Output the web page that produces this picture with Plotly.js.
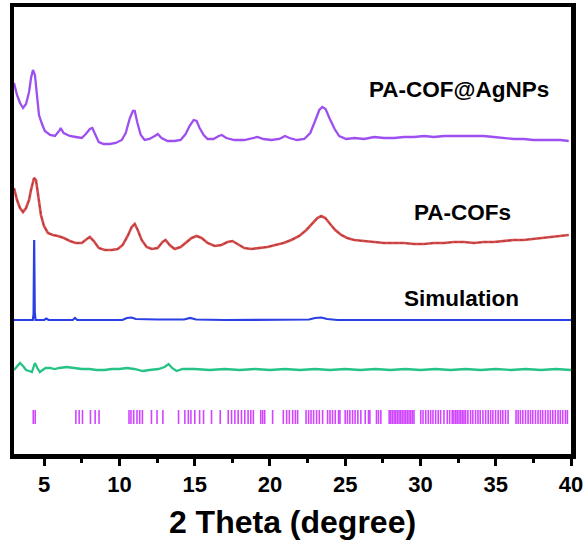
<!DOCTYPE html>
<html>
<head>
<meta charset="utf-8">
<script src="https://cdn.plot.ly/plotly-3.0.1.min.js"></script>
<style>html,body{margin:0;padding:0;background:#fff;}#chart{width:588px;height:554px;}</style>
</head>
<body>
<div id="chart"></div>
<script>
// 2θ (degree) and stacked intensities (a.u., offset for display)
const agX = [3.0,3.2,3.4,3.6,3.8,4.0,4.13,4.26,4.39,4.52,4.66,4.86,5.05,5.4,5.72,6.05,6.1,6.3,6.7,7.1,7.5,7.77,8.04,8.2,8.37,8.63,8.96,9.36,9.76,10.16,10.42,10.7,10.9,11.02,11.2,11.42,11.68,12.0,12.35,12.55,12.8,13.2,13.67,14.07,14.4,14.66,14.93,15.13,15.33,15.6,15.86,16.25,16.6,16.8,17.1,17.65,18.3,18.77,19.17,19.57,20.1,20.63,21.0,21.3,21.8,22.28,22.68,23.0,23.28,23.48,23.7,23.95,24.3,24.6,25.07,25.6,26.26,26.92,27.58,28.25,28.9,29.57,30.24,30.9,31.56,32.22,32.9,33.55,34.2,34.87,35.54,36.2,36.86,37.5,38.2,38.85,39.3,39.85];
const agY = [371,359,351,346,350,362,376,384,379,359,339,330,323,319,318,324,326,321,318,317,316,320,325,326,321,312,310,310,311,314,321,336,343,343,331,319,314,315,318,320,316,313,313,314,320,328,334,333,326,319,315,315,318,319,316,314,314,316,317,315,314,315,318,316,314,315,321,333,344,347,345,336,325,318,315,316,315,317,316,316,317,317,318,317,318,318,318,318,318,317,316,315,315,314,314,314,314,313];

const cofX = [3.0,3.2,3.4,3.6,3.8,4.0,4.13,4.33,4.46,4.59,4.79,4.99,5.25,5.58,5.92,6.31,6.71,7.1,7.5,7.84,8.04,8.3,8.63,9.03,9.49,9.89,10.22,10.55,10.82,11.02,11.22,11.48,11.81,12.15,12.54,12.87,13.07,13.34,13.67,14.07,14.46,14.8,15.13,15.46,15.86,16.33,16.78,17.18,17.51,17.84,18.3,18.77,19.3,19.83,20.36,20.9,21.42,21.95,22.42,22.81,23.15,23.41,23.68,24.0,24.34,24.74,25.13,25.6,26.26,26.92,27.58,28.25,28.9,29.57,30.24,30.9,31.56,32.22,32.9,33.55,34.2,34.87,35.54,36.2,36.86,37.5,38.2,38.85,39.3,39.85];
const cofY = [266,254,246,242,246,254,264,276,274,259,239,228,221,219,218,216,213,211,211,215,217,213,206,204,204,205,209,218,227,230,224,214,207,205,206,212,214,209,205,207,212,216,218,216,211,208,209,212,213,210,206,205,206,207,209,211,214,218,224,231,236,238,236,230,224,219,216,214,213,212,211,211,211,210,210,211,211,212,212,211,212,212,213,214,214,215,216,217,218,219];

const simX = [3.0,4.25,4.3,4.34,4.38,4.43,5.0,5.15,5.3,6.9,7.05,7.2,10.2,10.5,10.8,11.1,12.5,14.3,14.7,15.1,17.0,22.6,23.0,23.4,23.8,24.5,40.0];
const simY = [134,134,140,214,142,134,134,135.5,134,134,136,134,134,136,136.5,135,134.5,134.5,136,134.5,134,134.5,136,136.5,135,134,134];

const bareX = [3.0,3.2,3.4,3.6,3.8,4.0,4.19,4.3,4.39,4.55,4.72,4.9,5.1,5.39,5.7,6.0,6.5,7.0,7.5,8.0,8.5,9.0,9.5,10.0,10.49,11.0,11.55,12.0,12.6,13.0,13.27,13.5,13.8,14.2,15,16,17,18,19,20,21,22,23,24,25,26,27,28,29,30,31,32,33,34,35,36,37,38,39,40];
const bareY = [84,87,91,88,84,83,82,87,91,86,82,84,86,86,85,86,87,86,85,85,84,84,85,85,86,85,83,84,85,87,90,86,83,85,85,84,85,84,85,84,85,84,85,84,85,84,85,84,85,84,85,84,85,84,85,84,85,84,85,84];

// simulated reflection positions (2θ)
const reflX = [4.28,4.41,7.11,7.33,7.55,8.08,8.39,8.65,10.64,10.77,10.95,11.17,11.35,11.53,12.13,12.50,12.89,13.93,14.35,14.58,14.75,15.01,15.33,15.59,16.12,16.70,17.23,17.45,17.67,17.89,18.11,18.33,18.55,18.73,18.90,19.39,19.52,19.65,20.18,20.89,21.11,21.29,21.51,21.69,21.84,22.40,22.57,22.73,22.90,23.10,23.28,23.50,23.83,23.99,24.16,24.34,24.56,24.65,25.00,25.15,25.31,25.49,25.66,25.84,26.04,26.33,26.55,26.64,27.08,27.21,27.37,27.92,28.03,28.14,28.25,28.36,28.47,28.58,28.69,28.80,28.91,29.02,29.13,29.24,29.35,29.46,29.57,30.02,30.17,30.35,30.52,30.68,30.83,31.01,31.18,31.34,31.56,31.78,31.94,32.11,32.22,32.34,32.44,32.56,32.67,32.78,32.89,33.00,33.15,33.33,33.48,33.66,33.82,33.97,34.15,34.33,34.50,34.66,34.81,34.99,35.16,35.32,35.47,35.65,35.82,36.35,36.49,36.64,36.80,36.98,37.15,37.31,37.46,37.64,37.81,37.97,38.12,38.30,38.47,38.63,38.79,38.96,39.14,39.29,39.45,39.63,39.76];
const reflLow = 30, reflHigh = 44;

const xTicks = [5,10,15,20,25,30,35,40];
const labels = ["PA-COF@AgNPs","PA-COFs","Simulation"];

const rx = [], ry = [];
reflX.forEach(v => { rx.push(v, v, null); ry.push(reflLow, reflHigh, null); });

const traces = [
  {x: rx, y: ry, mode:'lines', line:{color:'#cc33ff', width:1.6}, opacity:0.9, hoverinfo:'skip'},
  {x: bareX, y: bareY, mode:'lines', line:{color:'#25c486', width:2.3}},
  {x: simX, y: simY, mode:'lines', line:{color:'#2a3fe6', width:2.2}},
  {x: cofX, y: cofY, mode:'lines', line:{color:'#da4b4b', width:2.6}},
  {x: cofX, y: cofY, mode:'lines', line:{color:'#6e3434', width:1, dash:'dot'}, opacity:0.6},
  {x: agX, y: agY, mode:'lines', line:{color:'#9d4ff0', width:2.3}}
];

const fontFam = '"Liberation Sans", Arial, sans-serif';
const layout = {
  width:588, height:554,
  margin:{l:14, r:17, t:7, b:100},
  paper_bgcolor:'#fff', plot_bgcolor:'#fff',
  showlegend:false,
  xaxis:{
    range:[3,40], tickvals:xTicks, ticktext:xTicks.map(String),
    ticks:'outside', ticklen:7, tickwidth:3, tickcolor:'#000',
    minor:{dtick:2.5, tick0:2.5, ticks:'outside', ticklen:4, tickwidth:3, tickcolor:'#000'},
    showline:true, linewidth:4.5, linecolor:'#000', mirror:true,
    showgrid:false, zeroline:false,
    tickfont:{family:fontFam, size:22, color:'#000', weight:'bold'},
    title:{text:'<b>2 Theta (degree)</b>', font:{family:fontFam, size:32, color:'#000'}, standoff:16}
  },
  yaxis:{
    range:[0,447], showticklabels:false, ticks:'',
    showline:true, linewidth:4.5, linecolor:'#000', mirror:true,
    showgrid:false, zeroline:false
  },
  annotations:[
    {x:32.55, y:365, xref:'x', yref:'y', text:'<b>'+labels[0]+'</b>', showarrow:false, font:{family:fontFam, size:22.5, color:'#000'}},
    {x:32.8, y:242, xref:'x', yref:'y', text:'<b>'+labels[1]+'</b>', showarrow:false, font:{family:fontFam, size:22.5, color:'#000'}},
    {x:32.75, y:156, xref:'x', yref:'y', text:'<b>'+labels[2]+'</b>', showarrow:false, font:{family:fontFam, size:22.5, color:'#000'}}
  ]
};
Plotly.newPlot('chart', traces, layout, {staticPlot:true, displayModeBar:false});
</script>
</body>
</html>
